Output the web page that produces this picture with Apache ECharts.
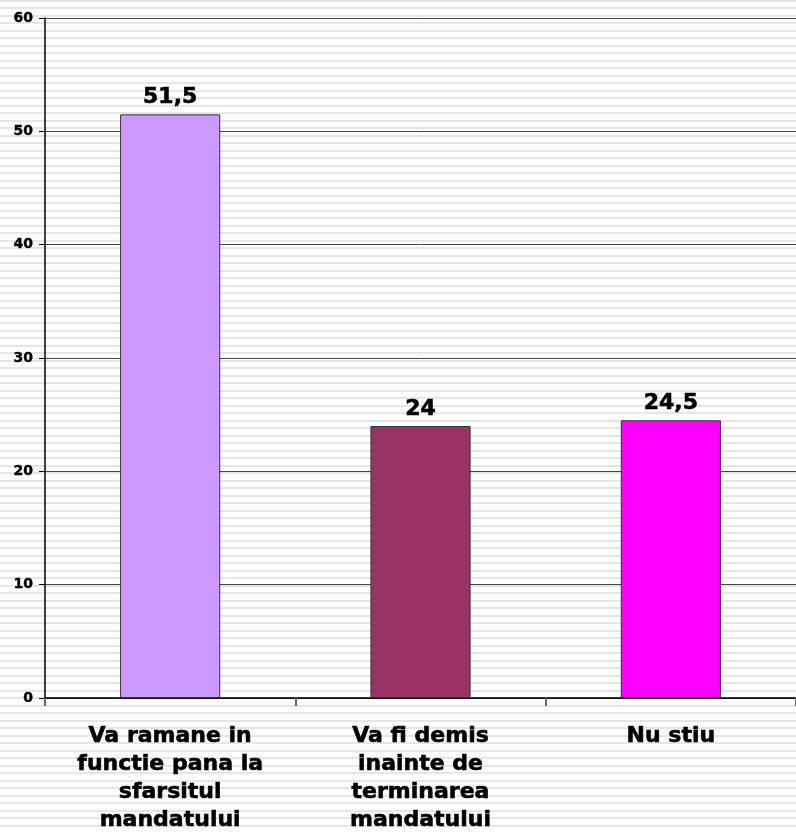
<!DOCTYPE html>
<html><head><meta charset="utf-8">
<script src="https://cdn.jsdelivr.net/npm/echarts@6/dist/echarts.min.js"></script>
<style>html,body{margin:0;padding:0;background:#fff}#c{width:796px;height:832px}</style>
</head><body><div id="c"></div>
<script>
const categories = ["Va ramane in\nfunctie pana la\nsfarsitul\nmandatului", "Va fi demis\ninainte de\nterminarea\nmandatului", "Nu stiu"];
const values = [51.5, 24, 24.5];
const labels = ["51,5", "24", "24,5"];
const colors = ["#cc99ff", "#993366", "#ff00ff"];
const yTicks = [0, 10, 20, 30, 40, 50, 60];

const pc = document.createElement('canvas');
pc.width = 8; pc.height = 15;
const ctx = pc.getContext('2d');
ctx.fillStyle = '#ffffff'; ctx.fillRect(0,0,8,15);
ctx.fillStyle = '#e6e6e6'; ctx.fillRect(0,0,8,2); ctx.fillRect(0,7,8,2);

const chart = echarts.init(document.getElementById('c'), null, {renderer:'canvas'});
const font = "'DejaVu Sans', Verdana, sans-serif";
const heavy = {textBorderColor: '#000', textBorderWidth: 0.6};
chart.setOption({
  backgroundColor: {image: pc, repeat: 'repeat'},
  animation: false,
  grid: {left: 45, right: 0, top: 18, bottom: 134, containLabel: false, outerBoundsMode: 'none'},
  xAxis: {
    type: 'category', data: categories,
    axisLine: {lineStyle: {color: '#000', width: 1.5}},
    axisTick: {show: true, length: 8, lineStyle: {color: '#666', width: 2}},
    axisLabel: Object.assign({fontFamily: font, fontWeight: 'bold', fontSize: 22, color: '#000', lineHeight: 28, margin: 24, interval: 0}, heavy)
  },
  yAxis: {
    type: 'value', min: 0, max: 60, interval: 10,
    axisLine: {show: true, lineStyle: {color: '#000', width: 1.5}},
    axisTick: {show: true, length: 6, lineStyle: {color: '#000'}},
    axisLabel: Object.assign({fontFamily: font, fontWeight: 'bold', fontSize: 14, color: '#000', margin: 12,
      formatter: v => yTicks.includes(v) ? String(v) : ''}, {textBorderColor: '#000', textBorderWidth: 0.4}),
    splitLine: {show: true, lineStyle: {color: '#444', width: 1}}
  },
  series: [{
    type: 'bar', barWidth: '40%',
    data: values.map((v, i) => ({value: v, itemStyle: {color: colors[i], borderColor: '#333', borderWidth: 1},
      label: {formatter: labels[i]}})),
    label: Object.assign({show: true, position: 'top', distance: 6, fontFamily: font, fontWeight: 'bold', fontSize: 22, color: '#000'}, heavy)
  }]
});
</script></body></html>
